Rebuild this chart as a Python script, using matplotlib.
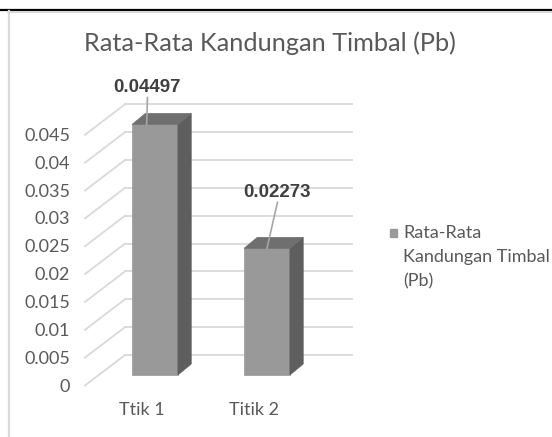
import matplotlib
matplotlib.use("Agg")
import matplotlib.pyplot as plt
from matplotlib.patches import Polygon
from matplotlib.lines import Line2D

# data
categories = ["Ttik 1", "Titik 2"]
values = [0.04497, 0.02273]
value_labels = ["0.04497", "0.02273"]
yticks = [0, 0.005, 0.01, 0.015, 0.02, 0.025, 0.03, 0.035, 0.04, 0.045]
ytick_labels = ["0", "0.005", "0.01", "0.015", "0.02", "0.025", "0.03", "0.035", "0.04", "0.045"]
title = "Rata-Rata Kandungan Timbal (Pb)"
legend_label = "Rata-Rata\nKandungan Timbal\n(Pb)"

W, H = 552, 437
fig = plt.figure(figsize=(W / 100, H / 100), dpi=100)
fig.patch.set_facecolor("white")

# axes = the plane where the bar fronts stand (pixel geometry of the frame)
ax_l, ax_r, ax_top, ax_bot = 98.3, 325.3, 124.3, 375.0
ax = fig.add_axes([ax_l / W, (H - ax_bot) / H, (ax_r - ax_l) / W, (ax_bot - ax_top) / H])
ax.set_xlim(-0.506, 1.521)
ax.set_ylim(0, 0.045)
ax.axis("off")

x0, x1 = ax.get_xlim()
y0, y1 = ax.get_ylim()
ppx = (ax_r - ax_l) / (x1 - x0)   # pixels per x unit
ppy = (ax_bot - ax_top) / (y1 - y0)  # pixels per y unit

def dx(p):
    return p / ppx

def dy(p):
    return p / ppy

grid_c = "#d9d9d9"
text_c = "#595959"
font = "Lato"

# back wall gridlines and side wall diagonals
back_dx, back_dy = 26.7, 20.0
front_dx, front_dy = -13.3, -10.5
for v, lab in zip(yticks, ytick_labels):
    ax.plot([x0 + dx(back_dx), x1 + dx(back_dx)], [v + dy(back_dy)] * 2,
            color=grid_c, lw=1.3, clip_on=False, zorder=1)
    ax.plot([x0 + dx(front_dx), x0 + dx(back_dx)], [v + dy(front_dy), v + dy(back_dy)],
            color=grid_c, lw=1.3, clip_on=False, zorder=1)
    ax.text(x0 + dx(front_dx - 15), v + dy(front_dy - 1), lab, ha="right", va="center",
            fontsize=13, color=text_c, family=font, clip_on=False)

# bars (front face) with side and top faces
width = 0.41
depth_x, depth_y = 13.3, 11.0
bars = ax.bar(range(len(values)), values, width=width, color="#999999",
              edgecolor="#9a9a9a", lw=0.5, zorder=3, clip_on=False)
for i, (b, v) in enumerate(zip(bars, values)):
    L = b.get_x()
    R = L + b.get_width()
    side = Polygon([(R, 0), (R, v), (R + dx(depth_x), v + dy(depth_y)),
                    (R + dx(depth_x), dy(depth_y))], closed=True,
                   facecolor="#5e5e5e", edgecolor="#5e5e5e", lw=0.5, zorder=3, clip_on=False)
    top = Polygon([(L, v), (R, v), (R + dx(depth_x), v + dy(depth_y)),
                   (L + dx(depth_x), v + dy(depth_y))], closed=True,
                  facecolor="#6f6f6f", edgecolor="#6f6f6f", lw=0.5, zorder=3, clip_on=False)
    ax.add_patch(side)
    ax.add_patch(top)

# data labels with leader lines
label_off = [(-7.5, 36.5), (10.5, 55.5)]
line_end = [-8.3, 0.0]
for i, v in enumerate(values):
    ox, oy = label_off[i]
    lx, ly = i + dx(ox), v + dy(oy)
    ax.text(lx, ly, value_labels[i], ha="center", va="center", fontsize=13.5,
            fontweight="bold", color="#404040", family="Liberation Sans", clip_on=False)
    ax.plot([lx, i + dx(line_end[i])], [ly - dy(9.5), v], color="#a6a6a6", lw=1.2,
            clip_on=False, zorder=4)

# category labels
for i, c in enumerate(categories):
    ax.text(i + dx(-13), -dy(35), c, ha="center", va="center", fontsize=13,
            color=text_c, family=font, clip_on=False)

# title
fig.text(270 / W, 1 - 43 / H, title, ha="center", va="center", fontsize=18.2,
         color=text_c, family=font)

# legend
fig.patches.append(plt.Rectangle((389.5 / W, 1 - 237 / H), 7.5 / W, 8.5 / H,
                                 transform=fig.transFigure, color="#999999"))
fig.text(403 / W, 1 - 257.5 / H, legend_label, ha="left", va="center", fontsize=13,
         color=text_c, family=font, linespacing=1.62)

# frame lines
fig.add_artist(Line2D([0, 1], [1 - 9.7 / H] * 2, color="black", lw=1.6))
fig.add_artist(Line2D([8 / W, 1], [1 - 12 / H] * 2, color="#d9d9d9", lw=1.5))
fig.add_artist(Line2D([9 / W] * 2, [0, 1 - 11 / H], color="#d9d9d9", lw=1.6))

fig.savefig("out.png", dpi=100)
